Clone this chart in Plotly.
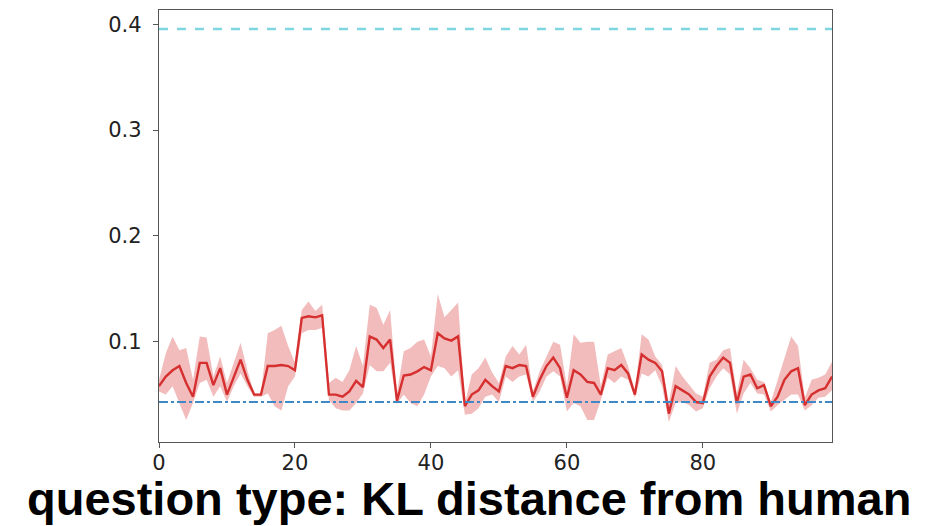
import plotly.graph_objects as go

x_idx = list(range(100))

mean_kl = [0.058, 0.067, 0.073, 0.077, 0.061, 0.048, 0.080, 0.080, 0.059, 0.075,
           0.050, 0.067, 0.083, 0.064, 0.050, 0.050, 0.077, 0.077, 0.078, 0.077,
           0.073, 0.1225, 0.124, 0.123, 0.125, 0.050, 0.050, 0.048, 0.053, 0.063,
           0.057, 0.105, 0.102, 0.094, 0.102, 0.044, 0.068, 0.069, 0.072, 0.076,
           0.073, 0.108, 0.103, 0.101, 0.105, 0.039, 0.050, 0.054, 0.064, 0.058,
           0.053, 0.077, 0.075, 0.078, 0.077, 0.048, 0.064, 0.077, 0.085, 0.075,
           0.047, 0.073, 0.069, 0.062, 0.061, 0.050, 0.075, 0.073, 0.078, 0.070,
           0.050, 0.088, 0.083, 0.080, 0.072, 0.032, 0.058, 0.054, 0.050, 0.043,
           0.042, 0.067, 0.077, 0.085, 0.080, 0.042, 0.067, 0.069, 0.056, 0.059,
           0.039, 0.048, 0.064, 0.072, 0.075, 0.040, 0.050, 0.054, 0.056, 0.067]

upper_kl = [0.064, 0.089, 0.105, 0.092, 0.094, 0.064, 0.105, 0.104, 0.067, 0.086,
            0.061, 0.080, 0.099, 0.073, 0.051, 0.051, 0.108, 0.111, 0.115, 0.096,
            0.080, 0.130, 0.138, 0.129, 0.135, 0.061, 0.066, 0.062, 0.073, 0.096,
            0.077, 0.135, 0.132, 0.116, 0.130, 0.051, 0.091, 0.094, 0.100, 0.102,
            0.086, 0.145, 0.123, 0.130, 0.137, 0.042, 0.069, 0.075, 0.085, 0.071,
            0.061, 0.086, 0.096, 0.088, 0.097, 0.053, 0.072, 0.086, 0.100, 0.097,
            0.058, 0.107, 0.099, 0.100, 0.100, 0.058, 0.088, 0.091, 0.094, 0.077,
            0.054, 0.107, 0.102, 0.086, 0.078, 0.042, 0.077, 0.067, 0.059, 0.051,
            0.048, 0.080, 0.083, 0.092, 0.094, 0.051, 0.083, 0.075, 0.064, 0.062,
            0.043, 0.064, 0.086, 0.105, 0.096, 0.047, 0.064, 0.066, 0.069, 0.081]

lower_kl = [0.053, 0.050, 0.058, 0.042, 0.026, 0.042, 0.061, 0.064, 0.048, 0.058,
            0.043, 0.058, 0.070, 0.058, 0.048, 0.048, 0.051, 0.039, 0.035, 0.058,
            0.067, 0.108, 0.111, 0.111, 0.113, 0.045, 0.037, 0.035, 0.035, 0.042,
            0.051, 0.078, 0.072, 0.072, 0.080, 0.041, 0.050, 0.042, 0.039, 0.050,
            0.067, 0.077, 0.075, 0.067, 0.073, 0.031, 0.032, 0.037, 0.048, 0.050,
            0.043, 0.067, 0.062, 0.067, 0.069, 0.043, 0.053, 0.067, 0.072, 0.067,
            0.034, 0.042, 0.039, 0.026, 0.026, 0.045, 0.066, 0.061, 0.067, 0.064,
            0.047, 0.070, 0.067, 0.073, 0.058, 0.024, 0.042, 0.043, 0.040, 0.034,
            0.037, 0.056, 0.067, 0.075, 0.069, 0.032, 0.051, 0.061, 0.051, 0.050,
            0.034, 0.040, 0.045, 0.050, 0.050, 0.035, 0.040, 0.047, 0.048, 0.054]

cyan_level = 0.3956
blue_level = 0.043

x_ticks = [0, 20, 40, 60, 80]
y_ticks = [0.1, 0.2, 0.3, 0.4]
y_tick_labels = ["0.1", "0.2", "0.3", "0.4"]
title_text = "question type: KL distance from human"

fig = go.Figure()

fig.add_trace(go.Scatter(x=x_idx, y=upper_kl, mode="lines", line=dict(width=0),
                         showlegend=False, hoverinfo="skip"))
fig.add_trace(go.Scatter(x=x_idx, y=lower_kl, mode="lines", line=dict(width=0),
                         fill="tonexty", fillcolor="rgba(222,80,80,0.38)",
                         showlegend=False, hoverinfo="skip"))
fig.add_trace(go.Scatter(x=x_idx, y=mean_kl, mode="lines",
                         line=dict(color="#d62f2f", width=2.4), showlegend=False))

fig.add_hline(y=cyan_level, line=dict(color="#7fd6e0", width=2.4, dash="dash"))
fig.add_hline(y=blue_level, line=dict(color="#3f8ac6", width=2.2, dash="dashdot"))

axis_common = dict(showline=True, linecolor="#555555", linewidth=1.3, mirror=True,
                   showgrid=False, zeroline=False, ticks="outside", ticklen=5,
                   tickwidth=1.2, tickcolor="#555555",
                   tickfont=dict(family="DejaVu Sans", size=21, color="#222222"))

fig.update_xaxes(range=[0, 99], tickvals=x_ticks, ticklabelstandoff=-3, **axis_common)
fig.update_yaxes(range=[0.0052, 0.4135], tickvals=y_ticks, ticktext=y_tick_labels,
                 ticklabelstandoff=7, **axis_common)

fig.add_annotation(text="<b>" + title_text + "</b>", xref="paper", yref="paper",
                   x=0.5, y=-0.13, xanchor="center", yanchor="middle", showarrow=False,
                   font=dict(family="Liberation Sans", size=47, color="black"),
                   xshift=-27)

fig.update_layout(width=927, height=526, margin=dict(l=159, r=95, t=10, b=84),
                  plot_bgcolor="white", paper_bgcolor="white")

fig.write_html("out.html")
